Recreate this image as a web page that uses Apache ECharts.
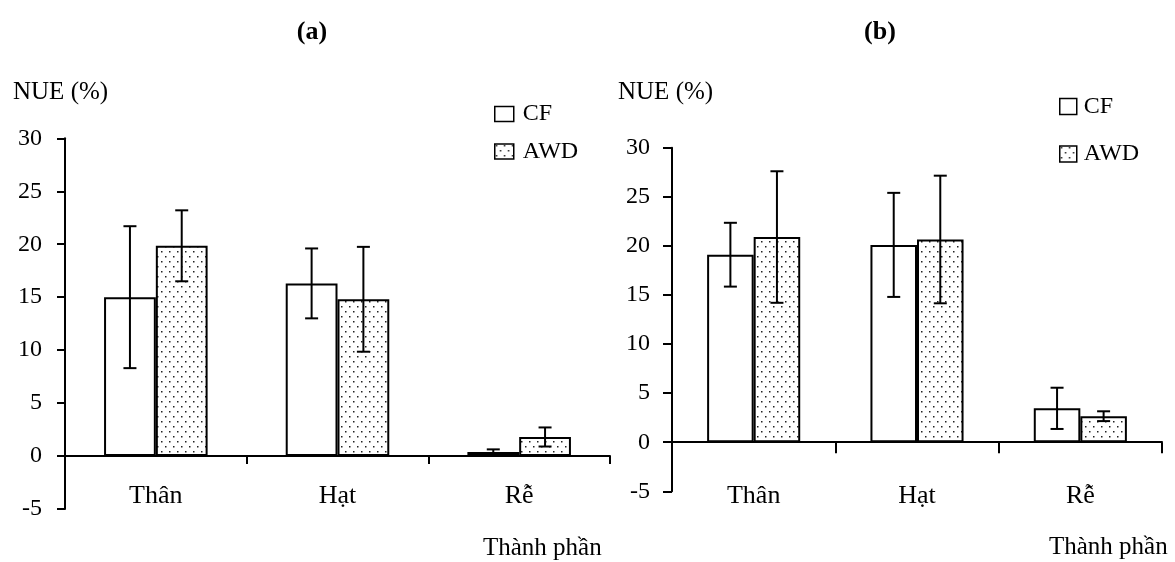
<!DOCTYPE html>
<html><head><meta charset="utf-8">
<script src="https://cdn.jsdelivr.net/npm/echarts@6/dist/echarts.min.js"></script>
<style>html,body{margin:0;padding:0;background:#fff}#c{width:1175px;height:562px}</style>
</head><body><div id="c"></div>
<script>
// ---- data ----
const categories = ['Thân', 'Hạt', 'Rễ'];
const seriesNames = ['CF', 'AWD'];
// Panel (a)
const cfA = [15.0, 16.3, 0.38];
const cfAErr = [6.7, 3.3, 0.25];
const awdA = [19.85, 14.8, 1.8];
const awdAErr = [3.35, 4.95, 0.9];
// Panel (b)
const cfB = [19.1, 20.1, 3.45];
const cfBErr = [3.25, 5.3, 2.1];
const awdB = [20.9, 20.65, 2.65];
const awdBErr = [6.7, 6.5, 0.5];
// axis
const yMin = -5, yMax = 30, yStep = 5;
const yName = 'NUE (%)';
const xName = 'Thành phần';
const panelTitles = ['(a)', '(b)'];

// ---- styling ----
const FONT = '"Liberation Serif", "Times New Roman", serif';
const barFrac = 0.285;

function makePattern() {
  const c = document.createElement('canvas');
  c.width = 8; c.height = 10;
  const g = c.getContext('2d');
  g.fillStyle = '#fff'; g.fillRect(0, 0, 8, 10);
  g.fillStyle = '#222';
  g.fillRect(1, 1, 1.5, 1.5);
  g.fillRect(5, 6, 1.5, 1.5);
  return c;
}
const pattern = { image: makePattern(), repeat: 'repeat' };

function barSeries(name, idx, vals, fill) {
  return {
    type: 'bar', name: name, xAxisIndex: idx, yAxisIndex: idx,
    data: vals, barWidth: (barFrac * 100) + '%', barGap: '0%',
    itemStyle: { color: fill, borderColor: '#000', borderWidth: 2 },
    silent: true
  };
}
function errSeries(name, idx, vals, errs, side) {
  return {
    type: 'custom', name: name, xAxisIndex: idx, yAxisIndex: idx, z: 10, silent: true,
    data: vals.map((v, i) => [i, v - errs[i], v + errs[i]]),
    renderItem: function (params, api) {
      const band = api.size([1, 0])[0];
      const off = side * band * barFrac / 2;
      const lo = api.coord([api.value(0), api.value(1)]);
      const hi = api.coord([api.value(0), api.value(2)]);
      const x = lo[0] + off, cap = 6.5;
      const st = { stroke: '#000', lineWidth: 2 };
      return { type: 'group', children: [
        { type: 'line', shape: { x1: x, y1: hi[1], x2: x, y2: lo[1] }, style: st },
        { type: 'line', shape: { x1: x - cap, y1: hi[1], x2: x + cap, y2: hi[1] }, style: st },
        { type: 'line', shape: { x1: x - cap, y1: lo[1], x2: x + cap, y2: lo[1] }, style: st }
      ] };
    }
  };
}
function xAx(idx, tickLen, margin) {
  return {
    gridIndex: idx, type: 'category', data: categories,
    axisLine: { onZero: true, lineStyle: { color: '#000', width: 2 } },
    axisTick: { show: true, length: tickLen, lineStyle: { color: '#000', width: 2 } },
    axisLabel: { margin: margin, color: '#000', fontFamily: FONT, fontSize: 26, lineHeight: 26 },
    splitLine: { show: false }
  };
}
function yAx(idx, tickLen, margin) {
  return {
    gridIndex: idx, type: 'value', min: yMin, max: yMax, interval: yStep,
    axisLine: { show: true, lineStyle: { color: '#000', width: 2 } },
    axisTick: { show: true, length: tickLen, lineStyle: { color: '#000', width: 2 } },
    axisLabel: { margin: margin, color: '#000', fontFamily: FONT, fontSize: 24 },
    splitLine: { show: false }
  };
}
function legend(left, top, w, h, gap, pad) {
  return {
    left: left, top: top, orient: 'vertical', icon: 'rect',
    itemWidth: w, itemHeight: h, itemGap: gap, data: seriesNames,
    selectedMode: false, padding: 0,
    itemStyle: { borderColor: '#000', borderWidth: 1.5 },
    textStyle: { fontFamily: FONT, fontSize: 24, lineHeight: 24, color: '#000', padding: [0, 0, 0, pad] }
  };
}
const txt = (x, y, t, o) => ({ type: 'text', x: x, y: y, style: Object.assign({
  text: t, fill: '#000', font: '24px ' + FONT, textAlign: 'left', textVerticalAlign: 'middle' }, o || {}) });

const chart = echarts.init(document.getElementById('c'), null, { renderer: 'canvas' });
chart.setOption({
  animation: false,
  backgroundColor: '#fff',
  grid: [
    { left: 65, top: 138.3, width: 545, height: 370.7 },
    { left: 672, top: 147.7, width: 490, height: 343.6 }
  ],
  xAxis: [xAx(0, 8, -26), xAx(1, 11, -8)],
  yAxis: [yAx(0, 8, 23), yAx(1, 9, 22)],
  legend: [legend(494, 102, 19, 15, 13.5, 4), legend(1059, 94.5, 17, 16, 23.5, 2)],
  series: [
    barSeries('CF', 0, cfA, '#fff'),
    barSeries('AWD', 0, awdA, pattern),
    errSeries('CF err', 0, cfA, cfAErr, -1),
    errSeries('AWD err', 0, awdA, awdAErr, 1),
    barSeries('CF', 1, cfB, '#fff'),
    barSeries('AWD', 1, awdB, pattern),
    errSeries('CF err', 1, cfB, cfBErr, -1),
    errSeries('AWD err', 1, awdB, awdBErr, 1)
  ],
  graphic: [
    txt(312, 32, panelTitles[0], { font: 'bold 26px ' + FONT, textAlign: 'center' }),
    txt(880, 32, panelTitles[1], { font: 'bold 26px ' + FONT, textAlign: 'center' }),
    txt(13, 92, yName, { font: '25px ' + FONT }),
    txt(618, 92, yName, { font: '25px ' + FONT }),
    txt(483, 548, xName, { font: '25px ' + FONT }),
    txt(1049, 547, xName, { font: '25px ' + FONT })
  ]
});
</script></body></html>
